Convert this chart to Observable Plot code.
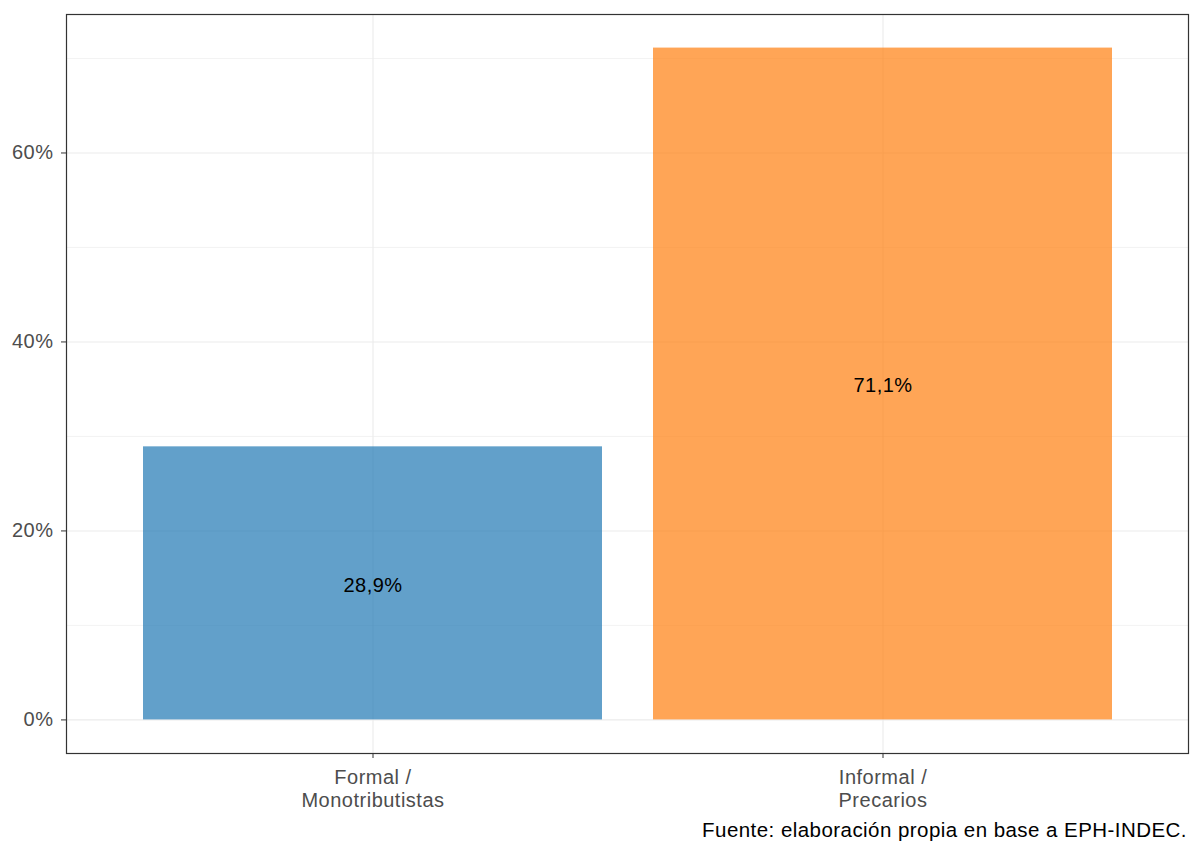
<!DOCTYPE html>
<html>
<head>
<meta charset="utf-8">
<script src="https://cdn.jsdelivr.net/npm/d3@7"></script>
<script src="https://cdn.jsdelivr.net/npm/@observablehq/plot@0.6"></script>
<style>
  html, body { margin: 0; padding: 0; background: #fff; }
  #wrap { width: 1200px; font-family: "Liberation Sans", Arial, sans-serif; }
  #chart svg { display: block; }
  #caption { width: 1187px; text-align: right; font-size: 20.5px; color: #000; margin-top: 3px; line-height: 24px; letter-spacing: 0.45px; }
</style>
</head>
<body>
<div id="wrap">
  <div id="chart"></div>
  <div id="caption">Fuente: elaboración propia en base a EPH-INDEC.</div>
</div>
<script>
// Share of workers by employment condition
const categories = ["Formal /\nMonotributistas", "Informal /\nPrecarios"];
const shares = [28.9, 71.1];
const barColors = ["#1f77b4", "#ff7f0e"];
const yTicks = [0, 20, 40, 60];
const yMinor = [10, 30, 50, 70];

const rows = categories.map((c, i) => ({cat: c, value: shares[i], color: barColors[i]}));

const maxV = d3.max(shares);
const pad = maxV * 0.05;
const fmt = v => v.toFixed(1).replace(".", ",") + "%";

const chart = Plot.plot({
  width: 1200,
  height: 815,
  marginLeft: 66,
  marginRight: 12,
  marginTop: 14,
  marginBottom: 62,
  style: {fontFamily: "Liberation Sans, Arial, sans-serif", fontSize: "20px", letterSpacing: "0.5px", background: "#fff"},
  x: {type: "band", domain: categories, paddingInner: 0.1, paddingOuter: 0.15, label: null},
  y: {domain: [-pad, maxV + pad], label: null},
  marks: [
    Plot.ruleY(yMinor, {stroke: "#ebebeb", strokeWidth: 0.6}),
    Plot.ruleY(yTicks, {stroke: "#ebebeb", strokeWidth: 1.1}),
    Plot.ruleX(categories, {x: d => d, stroke: "#ebebeb", strokeWidth: 1.1}),
    Plot.barY(rows, {x: "cat", y: "value", fill: "color", fillOpacity: 0.7}),
    Plot.text(rows, {x: "cat", y: d => d.value / 2, text: d => fmt(d.value), fill: "#000", fontSize: 20, dy: 2}),
    Plot.frame({stroke: "#333", strokeWidth: 1.2}),
    Plot.axisY({ticks: yTicks, tickFormat: d => d + "%", tickSize: 5, tickPadding: 8, stroke: "#333", fill: "#4d4d4d", fontSize: 20, label: null}),
    Plot.axisX({tickSize: 5, tickPadding: 10, stroke: "#333", fill: "#4d4d4d", fontSize: 20, lineHeight: 1.12, label: null})
  ]
});
document.getElementById("chart").appendChild(chart);
</script>
</body>
</html>
